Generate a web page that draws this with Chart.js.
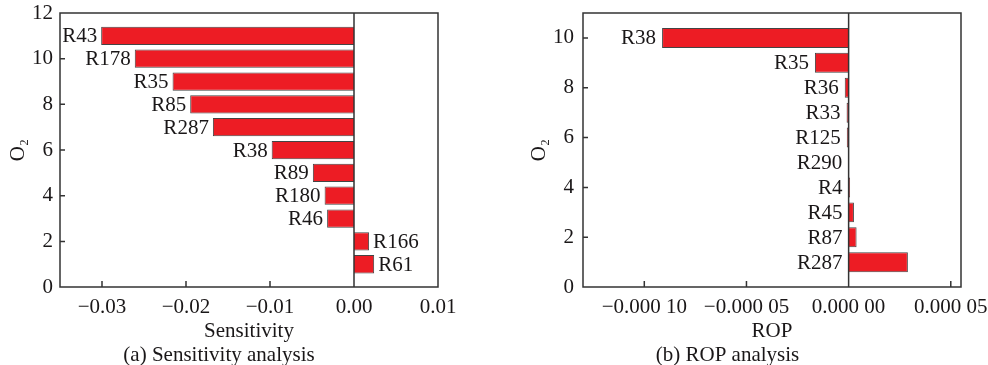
<!DOCTYPE html>
<html>
<head>
<meta charset="utf-8">
<script src="https://cdn.jsdelivr.net/npm/chart.js"></script>
<style>
  html, body { margin: 0; padding: 0; background: #fff; }
  .panel { position: absolute; top: 0; width: 494px; height: 365px; }
  #panel-a { left: 0; }
  #panel-b { left: 494px; }
</style>
</head>
<body>
<div class="panel" id="panel-a"><canvas id="chart-a"></canvas></div>
<div class="panel" id="panel-b"><canvas id="chart-b"></canvas></div>
<script>
// (a) sensitivity analysis
var reactionsA = ['R43', 'R178', 'R35', 'R85', 'R287', 'R38', 'R89', 'R180', 'R46', 'R166', 'R61'];
var rowsA = [11, 10, 9, 8, 7, 6, 5, 4, 3, 2, 1];
var sensitivity = [-0.0301, -0.0261, -0.0216, -0.0195, -0.0168, -0.0098, -0.0049, -0.0035, -0.0032, 0.0018, 0.0024];
var xTicksA = [-0.03, -0.02, -0.01, 0, 0.01];
var xTickLabelsA = ['\u22120.03', '\u22120.02', '\u22120.01', '0.00', '0.01'];
var yTicksA = [0, 2, 4, 6, 8, 10, 12];

// (b) ROP analysis
var reactionsB = ['R38', 'R35', 'R36', 'R33', 'R125', 'R290', 'R4', 'R45', 'R87', 'R287'];
var rowsB = [10, 9, 8, 7, 6, 5, 4, 3, 2, 1];
var rop = [-0.0000913, -0.0000165, -0.0000019, -0.000001, -0.0000009, -0.0000002, 0.0000007, 0.0000026, 0.0000039, 0.000029];
var xTicksB = [-0.0001, -0.00005, 0, 0.00005];
var xTickLabelsB = ['\u22120.000 10', '\u22120.000 05', '0.000 00', '0.000 05'];
var yTicksB = [0, 2, 4, 6, 8, 10];

var ink = '#1a1718';
var serif = "'Liberation Serif', 'Times New Roman', serif";

Chart.defaults.font.family = serif;
Chart.defaults.font.size = 21;
Chart.defaults.color = ink;

// box, zero line and inward tick marks
var frame = {
    id: 'frame',
    afterDatasetsDraw: function(chart) {
        var a = chart.chartArea, ctx = chart.ctx;
        var sx = chart.scales.x, sy = chart.scales.y;
        ctx.save();
        ctx.strokeStyle = '#333';
        ctx.lineWidth = 1.5;
        ctx.beginPath();
        var x0 = sx.getPixelForValue(0);
        ctx.moveTo(x0, a.top);
        ctx.lineTo(x0, a.bottom);
        sx.ticks.forEach(function(t) {
            var px = sx.getPixelForValue(t.value);
            ctx.moveTo(px, a.bottom);
            ctx.lineTo(px, a.bottom - 6);
        });
        sy.ticks.forEach(function(t) {
            var py = sy.getPixelForValue(t.value);
            ctx.moveTo(a.left, py);
            ctx.lineTo(a.left + 5, py);
        });
        ctx.rect(a.left, a.top, a.right - a.left, a.bottom - a.top);
        ctx.stroke();
        ctx.restore();
    }
};

// reaction names next to each bar
var barLabels = {
    id: 'barLabels',
    afterDatasetsDraw: function(chart, args, opts) {
        var ctx = chart.ctx;
        var meta = chart.getDatasetMeta(0);
        var data = chart.data.datasets[0].data;
        ctx.save();
        ctx.font = '21px ' + serif;
        ctx.fillStyle = ink;
        ctx.textBaseline = 'middle';
        meta.data.forEach(function(bar, i) {
            var lo = Math.min(bar.x, bar.base), hi = Math.max(bar.x, bar.base);
            if (opts.side === 'outside' && data[i].x > 0) {
                ctx.textAlign = 'left';
                ctx.fillText(opts.names[i], hi + opts.gap, bar.y + 1);
            } else {
                ctx.textAlign = 'right';
                ctx.fillText(opts.names[i], lo - opts.gap, bar.y + 1);
            }
        });
        ctx.restore();
    }
};

function makeChart(id, p) {
    var points = p.values.map(function(v, i) { return {x: v, y: p.rows[i]}; });
    return new Chart(document.getElementById(id), {
        type: 'bar',
        data: {
            datasets: [{
                data: points,
                backgroundColor: '#ed1c24',
                borderColor: '#444',
                borderWidth: 1,
                categoryPercentage: 0.8,
                barPercentage: 1
            }]
        },
        options: {
            indexAxis: 'y',
            responsive: true,
            maintainAspectRatio: false,
            animation: false,
            layout: { padding: { top: 13, right: p.padRight, left: 0, bottom: 0 } },
            scales: {
                x: {
                    type: 'linear',
                    min: p.xMin, max: p.xMax,
                    grid: { display: false, drawTicks: false },
                    border: { display: false },
                    afterBuildTicks: function(s) { s.ticks = p.xTicks.map(function(v) { return {value: v}; }); },
                    afterFit: function(s) { s.height = 59; s.paddingLeft = 0; s.paddingRight = 0; },
                    ticks: {
                        padding: 8, autoSkip: false, maxRotation: 0,
                        callback: function(v, i) { return p.xLabels[i]; }
                    },
                    title: { display: true, text: p.xTitle, padding: { top: 0, bottom: 2 } }
                },
                y: {
                    type: 'linear',
                    min: 0, max: p.yMax,
                    offset: false,
                    grid: { display: false, drawTicks: false, offset: false },
                    border: { display: false },
                    afterBuildTicks: function(s) { s.ticks = p.yTicks.map(function(v) { return {value: v}; }); },
                    afterFit: function(s) { s.width = p.yWidth; s.paddingTop = 0; s.paddingBottom = 0; },
                    ticks: { padding: p.yPad, autoSkip: false },
                    title: { display: true, text: 'O\u2082', padding: { top: p.titlePad, bottom: 0 } }
                }
            },
            plugins: {
                legend: { display: false },
                tooltip: { enabled: false },
                title: {
                    display: true, position: 'bottom', text: p.caption,
                    font: { size: 21, weight: 'normal', lineHeight: 0.9 },
                    padding: { top: 0, bottom: 0 }
                },
                barLabels: { names: p.names, side: p.side, gap: p.gap }
            }
        },
        plugins: [frame, barLabels]
    });
}

makeChart('chart-a', {
    names: reactionsA, rows: rowsA, values: sensitivity,
    xMin: -0.035, xMax: 0.01, xTicks: xTicksA, xLabels: xTickLabelsA,
    yMax: 12, yTicks: yTicksA,
    xTitle: 'Sensitivity', caption: '(a) Sensitivity analysis',
    padRight: 56, yWidth: 60, yPad: 7, titlePad: 6,
    side: 'outside', gap: 4
});

makeChart('chart-b', {
    names: reactionsB, rows: rowsB, values: rop,
    xMin: -0.00013, xMax: 0.000055, xTicks: xTicksB, xLabels: xTickLabelsB,
    yMax: 11, yTicks: yTicksB,
    xTitle: 'ROP', caption: '(b) ROP analysis',
    padRight: 27, yWidth: 89, yPad: 9, titlePad: 33,
    side: 'left', gap: 6
});
</script>
</body>
</html>
